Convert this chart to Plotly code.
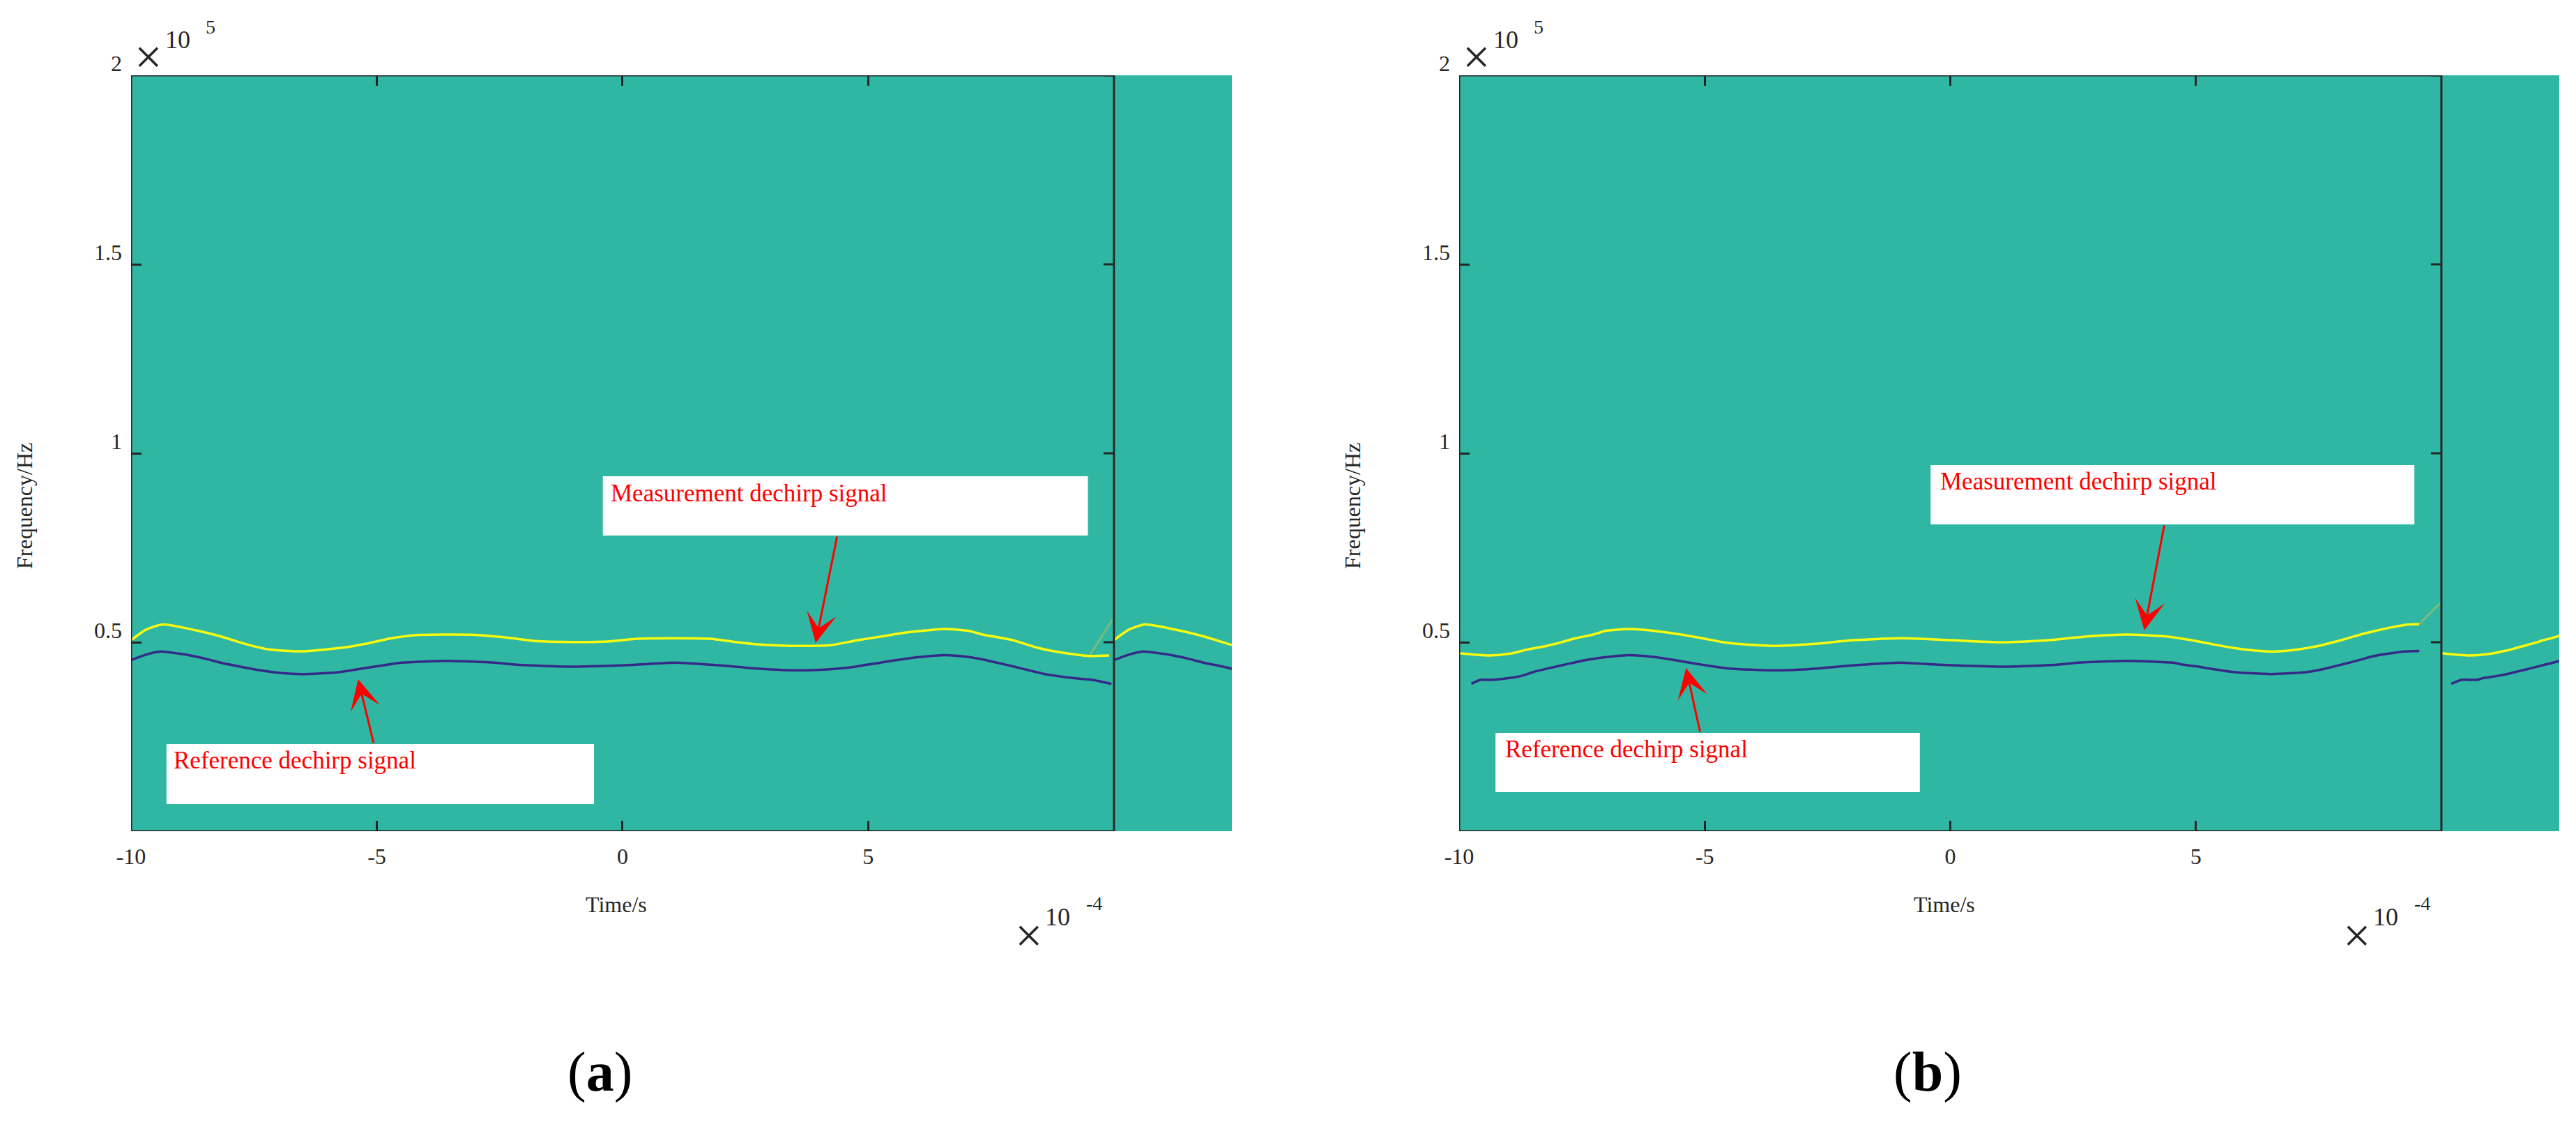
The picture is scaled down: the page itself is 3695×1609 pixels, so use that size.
import plotly.graph_objects as go

# ---- data (time in 1e-4 s, frequency in Hz) ----
# panel (a)
t_meas_a = [-10.0, -9.7, -9.35, -8.66, -8.17, -7.68, -7.19, -6.53, -5.72, -5.23, -4.74, -4.2, -3.6, -3.0,
            -2.4, -1.76, -1.0, -0.3, 0.0, 0.3, 1.04, 1.79, 2.3, 2.9, 3.6, 4.22, 4.79, 5.27, 5.74, 6.07,
            6.55, 7.05, 7.33, 7.94, 8.45, 9.0, 9.5, 9.9]
f_meas_a = [50550, 53300, 54700, 53080, 51530, 49570, 48100, 47600, 48520, 49570, 50980, 51900, 52030, 51950,
            51300, 50300, 50060, 50200, 50550, 50900, 51050, 50900, 50060, 49300, 49020, 49200, 50550, 51530,
            52520, 53000, 53500, 53000, 52030, 50550, 48520, 47140, 46370, 46500]
t_ref_a = [-10.0, -9.7, -9.4, -9.03, -8.79, -8.45, -8.15, -7.78, -7.37, -7.1, -6.53, -5.78, -5.3, -4.79,
           -4.5, -3.55, -2.6, -2.15, -1.0, 0.27, 1.07, 1.8, 2.3, 2.73, 3.6, 4.4, 4.75, 4.97, 5.22, 5.46,
           5.71, 6.04, 6.55, 7.05, 7.3, 7.55, 7.97, 8.27, 8.6, 9.0, 9.33, 9.56, 9.95]
f_ref_a = [45260, 46700, 47540, 46990, 46490, 45510, 44520, 43540, 42560, 42070, 41570, 42070, 43050, 44040,
           44590, 45070, 44590, 44040, 43540, 44040, 44590, 44040, 43540, 43050, 42560, 43050, 43540, 44040,
           44520, 45070, 45510, 46070, 46590, 46070, 45510, 44800, 43540, 42560, 41570, 40800, 40300, 40040,
           38990]
t_meas_a_ext = [10.0, 10.3, 10.63, 11.34, 11.83, 12.32, 12.4]
f_meas_a_ext = [50550, 53300, 54700, 53080, 51530, 49570, 49300]
t_ref_a_ext = [10.0, 10.3, 10.6, 10.97, 11.21, 11.55, 11.85, 12.22, 12.4]
f_ref_a_ext = [45260, 46700, 47540, 46990, 46490, 45510, 44520, 43540, 42990]
# faint leakage streaks at the frame edge
t_fuzz_a = [9.5, 9.97]
f_fuzz_a = [46400, 56000]

# panel (b)
t_meas_b = [-10.0, -9.39, -8.96, -8.61, -8.2, -7.9, -7.63, -7.27, -7.03, -6.53, -6.02, -5.48, -5.05, -4.64,
            -4.35, -3.58, -2.77, -2.38, -1.98, -1.0, 0.0, 1.04, 2.0, 2.4, 2.78, 3.6, 4.4, 4.91, 5.32, 5.75,
            6.04, 6.55, 7.03, 7.5, 7.8, 8.08, 8.35, 8.65, 9.0, 9.3, 9.55]
f_meas_b = [47100, 46490, 46990, 48090, 49090, 50060, 51050, 52030, 53000, 53500, 53000, 52030, 51050, 50060,
            49570, 49020, 49570, 50060, 50550, 51050, 50550, 50000, 50550, 51050, 51530, 52030, 51530, 50550,
            49520, 48520, 48030, 47540, 48030, 49020, 50000, 51000, 52030, 53000, 53990, 54660, 54800]
t_ref_b = [-9.75, -9.57, -9.33, -8.98, -8.74, -8.5, -8.2, -7.86, -7.52, -7.31, -7.0, -6.54, -6.02, -5.73,
           -5.27, -4.8, -4.5, -3.58, -2.7, -2.3, -1.79, -1.05, -0.24, 1.03, 2.17, 2.6, 3.59, 4.53, 4.75,
           5.05, 5.27, 5.52, 5.8, 6.54, 7.23, 7.47, 7.8, 8.1, 8.39, 8.54, 8.72, 8.95, 9.25, 9.55]
f_ref_b = [39000, 40040, 40040, 40530, 41080, 42070, 43050, 44040, 45030, 45510, 46070, 46590, 46070, 45510,
           44520, 43540, 43050, 42560, 43050, 43540, 44040, 44590, 44040, 43540, 44040, 44590, 45070, 44590,
           44040, 43540, 43050, 42560, 42070, 41570, 42070, 42560, 43540, 44520, 45510, 46070, 46590, 47050,
           47540, 47700]
t_meas_b_ext = [10.0, 10.57, 11.02, 11.23, 11.41, 11.53, 11.68, 11.81, 11.95, 12.07, 12.22, 12.36, 12.4]
f_meas_b_ext = [47100, 46490, 46990, 47540, 48030, 48520, 49020, 49520, 50000, 50550, 51000, 51530, 51800]
t_ref_b_ext = [10.2, 10.41, 10.72, 10.86, 11.13, 11.33, 11.49, 11.65, 11.8, 11.95, 12.1, 12.25, 12.4]
f_ref_b_ext = [39000, 40040, 40040, 40530, 41080, 41570, 42070, 42560, 43050, 43540, 44040, 44520, 45030]
t_fuzz_b = [9.55, 9.97]
f_fuzz_b = [54800, 60300]

x_ticks = [-10, -5, 0, 5]
x_tick_text = ["-10", "-5", "0", "5"]
y_ticks = [50000, 100000, 150000, 200000]
y_tick_text = ["0.5", "1", "1.5", "2"]

meas_label = "Measurement dechirp signal"
ref_label = "Reference dechirp signal"

W, H = 3695, 1609
OFF = 8  # page body margin
FW, FH = W - OFF, H - OFF
FONT = "Times New Roman, Liberation Serif, serif"
TEAL = "#2FB7A3"
YELLOW = "#F9FB0E"
BLUE = "#352A87"
AX = "#262626"


def px(x):
    return (x - OFF) / FW


def py(y):
    return 1 - (y - OFF) / FH


panels = [
    dict(xa="x", ya="y", dx=0, name="a",
         meas=(t_meas_a, f_meas_a), ref=(t_ref_a, f_ref_a),
         meas_ext=(t_meas_a_ext, f_meas_a_ext), ref_ext=(t_ref_a_ext, f_ref_a_ext),
         fuzz=(t_fuzz_a, f_fuzz_a),
         meas_box=(-0.40, 9.47, 78230, 93910), ref_box=(-9.28, -0.58, 7200, 23060),
         meas_txt=(-0.27, 93360), ref_txt=(-9.16, 22700),
         meas_arrow=(3.93, 49800, 4.37, 78230), ref_arrow=(-5.38, 40220, -5.06, 23060)),
    dict(xa="x2", ya="y2", dx=1905, name="b",
         meas=(t_meas_b, f_meas_b), ref=(t_ref_b, f_ref_b),
         meas_ext=(t_meas_b_ext, f_meas_b_ext), ref_ext=(t_ref_b_ext, f_ref_b_ext),
         fuzz=(t_fuzz_b, f_fuzz_b),
         meas_box=(-0.40, 9.45, 81180, 96860), ref_box=(-9.26, -0.62, 10330, 26010),
         meas_txt=(-0.23, 96500), ref_txt=(-9.09, 25650),
         meas_arrow=(3.95, 53140, 4.36, 81180), ref_arrow=(-5.38, 43170, -5.09, 26010)),
]

fig = go.Figure()
shapes = []
annotations = []

for p in panels:
    xa, ya, dx = p["xa"], p["ya"], p["dx"]
    tt, ff = p["fuzz"]
    fig.add_trace(go.Scatter(x=tt, y=ff, mode="lines", xaxis=xa, yaxis=ya,
                             line=dict(color="rgba(215,190,80,0.45)", width=3),
                             hoverinfo="skip", showlegend=False))
    for key, col in [("meas", YELLOW), ("meas_ext", YELLOW), ("ref", BLUE), ("ref_ext", BLUE)]:
        tt, ff = p[key]
        fig.add_trace(go.Scatter(x=tt, y=ff, mode="lines", xaxis=xa, yaxis=ya,
                                 line=dict(color=col, width=3.5, shape="spline", smoothing=0.6),
                                 hoverinfo="skip", showlegend=False))

    # white label boxes
    for bkey in ["meas_box", "ref_box"]:
        x0, x1, y0, y1 = p[bkey]
        shapes.append(dict(type="rect", xref=xa, yref=ya, x0=x0, x1=x1, y0=y0, y1=y1,
                           fillcolor="white", line=dict(width=0), layer="above"))
    # axes box (only up to t = 10, the image runs past it)
    shapes.append(dict(type="rect", xref=xa, yref=ya, x0=-10, x1=10, y0=0, y1=200000,
                       line=dict(color=AX, width=3), fillcolor="rgba(0,0,0,0)", layer="above"))
    for yv in y_ticks:
        shapes.append(dict(type="line", xref=xa, yref=ya, xsizemode="pixel", xanchor=10,
                           x0=-15, x1=0, y0=yv, y1=yv, line=dict(color=AX, width=3)))

    # labels + arrows
    for tkey, label in [("meas_txt", meas_label), ("ref_txt", ref_label)]:
        tx, ty = p[tkey]
        annotations.append(dict(x=tx, y=ty, xref=xa, yref=ya, text=label, showarrow=False,
                                xanchor="left", yanchor="top",
                                font=dict(family=FONT, size=35, color="#FF0000")))
    for akey in ["meas_arrow", "ref_arrow"]:
        x, y, axx, ayy = p[akey]
        annotations.append(dict(x=x, y=y, ax=axx, ay=ayy, xref=xa, yref=ya, axref=xa, ayref=ya,
                                text="", showarrow=True, arrowhead=3, arrowsize=2.4, arrowwidth=3,
                                arrowcolor="#FF0000"))

    # exponent labels, axis titles, panel tag
    txt = [
        ("\u00d7", 212, 82, 70), ("10", 255, 57, 36), ("5", 302, 38, 28),
        ("\u00d7", 1475, 1341, 70), ("10", 1517, 1315, 36), ("-4", 1569, 1295, 28),
        ("Time/s", 884, 1297, 32),
    ]
    for s, x, y, sz in txt:
        annotations.append(dict(x=px(x + dx), y=py(y), xref="paper", yref="paper", text=s,
                                showarrow=False, xanchor="center", yanchor="middle",
                                font=dict(family=FONT, size=sz, color=AX)))
    annotations.append(dict(x=px(35 + dx), y=py(726), xref="paper", yref="paper", text="Frequency/Hz",
                            textangle=-90, showarrow=False, xanchor="center", yanchor="middle",
                            font=dict(family=FONT, size=32, color=AX)))
    annotations.append(dict(x=px(860 + dx), y=py(1537), xref="paper", yref="paper",
                            text="(<b>" + p["name"] + "</b>)", showarrow=False,
                            xanchor="center", yanchor="middle",
                            font=dict(family=FONT, size=80, color="black")))

xaxis_common = dict(range=[-10, 12.4], tickvals=x_ticks, ticktext=x_tick_text, ticks="inside",
                    ticklen=15, tickwidth=3, tickcolor=AX, mirror="ticks", showline=False,
                    showgrid=False, zeroline=False, ticklabelstandoff=14, automargin=False,
                    tickfont=dict(family=FONT, size=32, color=AX))
yaxis_common = dict(range=[0, 200000], tickvals=y_ticks, ticktext=y_tick_text, ticks="inside",
                    ticklen=15, tickwidth=3, tickcolor=AX, showline=False, showgrid=False,
                    zeroline=False, ticklabelshift=-17, ticklabelstandoff=12, automargin=False,
                    tickfont=dict(family=FONT, size=32, color=AX))

ydom = [py(1192), py(108)]
fig.update_layout(
    width=FW, height=FH, autosize=False,
    margin=dict(l=0, r=0, t=0, b=0, pad=0),
    paper_bgcolor="white", plot_bgcolor=TEAL,
    showlegend=False,
    xaxis=dict(domain=[px(188), px(1767)], anchor="y", **xaxis_common),
    yaxis=dict(domain=ydom, anchor="x", **yaxis_common),
    xaxis2=dict(domain=[px(2093), px(3671)], anchor="y2", **xaxis_common),
    yaxis2=dict(domain=ydom, anchor="x2", **yaxis_common),
    shapes=shapes,
    annotations=annotations,
)

fig.write_html("out.html")
